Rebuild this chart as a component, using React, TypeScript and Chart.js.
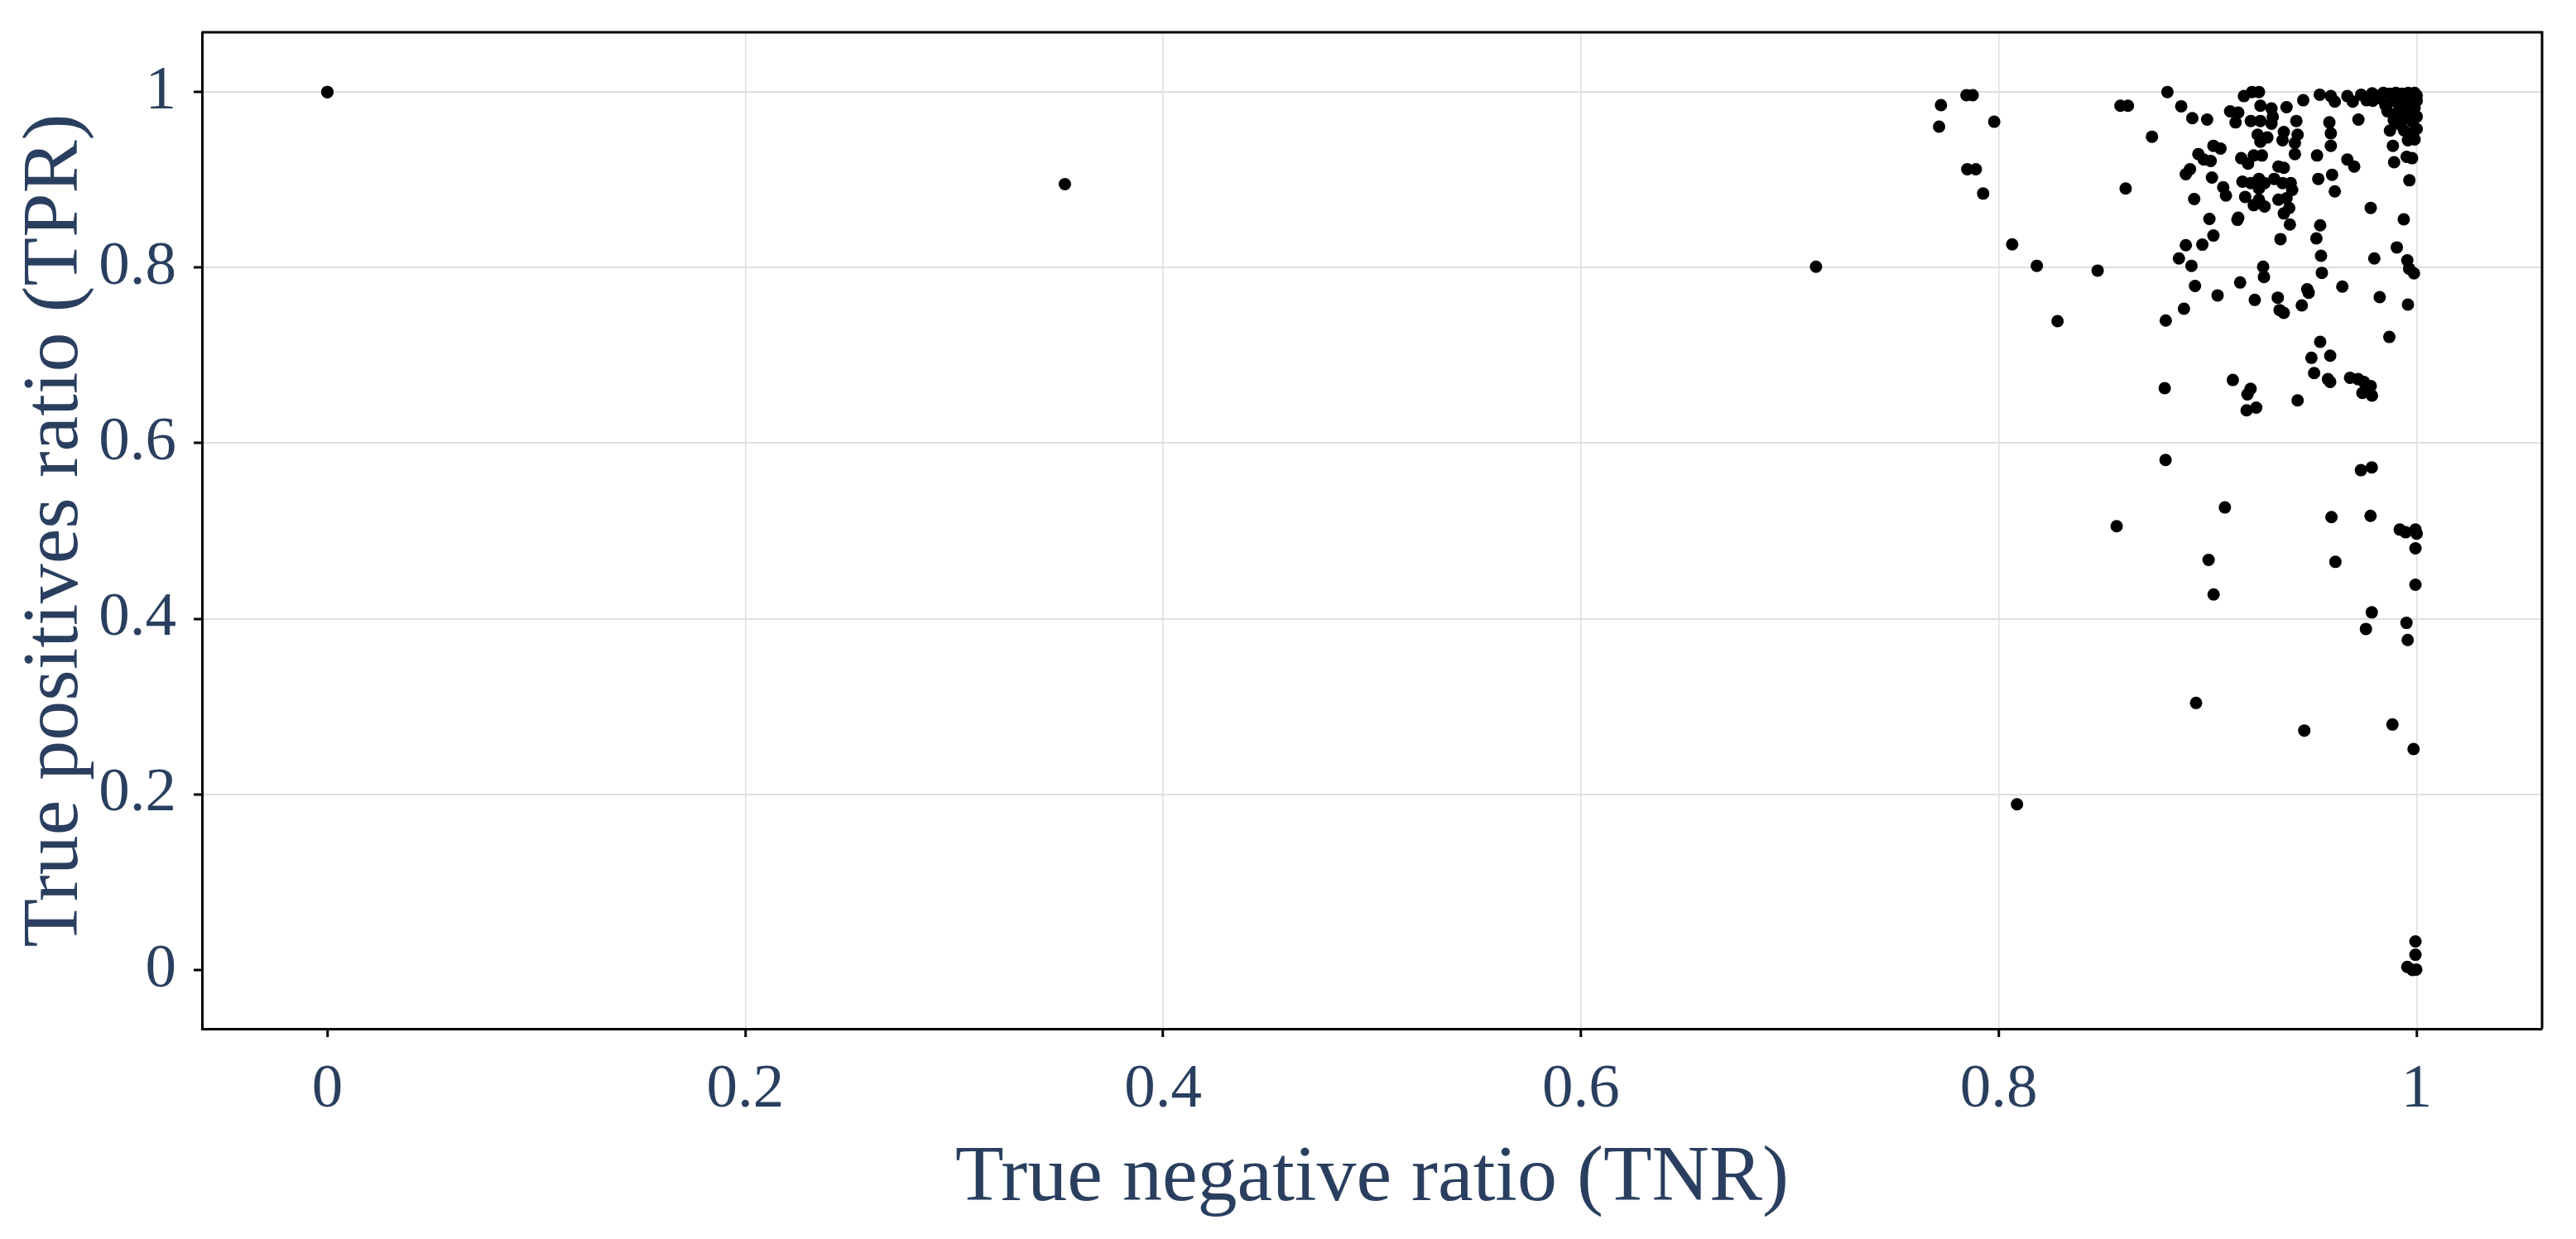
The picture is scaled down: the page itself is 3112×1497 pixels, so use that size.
import React, { useEffect, useRef } from "react";
import { Chart, registerables } from "chart.js";

Chart.register(...registerables);

// True negative ratio (x) and true positives ratio (y), one entry per point
const TNR = [
  0, 0, 0.353, 0.7125, 0.7723, 0.7845, 0.7875, 0.7714, 0.7978, 0.7849,
  0.789, 0.7925, 0.8064, 0.8182, 0.8473, 0.8281, 0.8582, 0.8618, 0.8607, 0.8733,
  0.8807, 0.8873, 0.8799, 0.8794, 0.8862, 0.8922, 0.8939, 0.8886, 0.9047, 0.8895,
  0.8974, 0.9027, 0.9008, 0.8935, 0.902, 0.8895, 0.8915, 0.8955, 0.8981, 0.9014,
  0.9027, 0.9061, 0.8926, 0.8997, 0.9107, 0.9146, 0.9133, 0.9173, 0.9212, 0.9245,
  0.9252, 0.9206, 0.9252, 0.9305, 0.9311, 0.9305, 0.9377, 0.9457, 0.9536, 0.9589,
  0.9608, 0.9668, 0.9694, 0.9734, 0.976, 0.9787, 0.9813, 0.9721, 0.9582, 0.9589,
  0.9589, 0.9424, 0.9364, 0.943, 0.9417, 0.9358, 0.9239, 0.9285, 0.9252, 0.9417,
  0.9523, 0.9668, 0.9701, 0.9595, 0.9529, 0.9608, 0.978, 0.9872, 0.9886, 0.9892,
  0.9952, 0.9978, 0.9965, 0.9958, 0.9938, 0.9074, 0.9087, 0.9146, 0.916, 0.9193,
  0.922, 0.9259, 0.9338, 0.9364, 0.9166, 0.9206, 0.9245, 0.9272, 0.9245, 0.9318,
  0.9358, 0.9397, 0.9404, 0.9179, 0.922, 0.9245, 0.9272, 0.9338, 0.9377, 0.939,
  0.9364, 0.9142, 0.9393, 0.9348, 0.9538, 0.952, 0.9542, 0.9546, 0.9905, 0.9797,
  0.9955, 0.9964, 0.9987, 0.9265, 0.9269, 0.9155, 0.9225, 0.9335, 0.9344, 0.9364,
  0.945, 0.9476, 0.9483, 0.9644, 0.9823, 0.9958, 0.9869, 0.9538, 0.9496, 0.9586,
  0.9509, 0.9575, 0.9586, 0.9681, 0.972, 0.9747, 0.978, 0.974, 0.9786, 0.976,
  0.912, 0.9205, 0.919, 0.943, 0.9186, 0.9232, 0.8798, 0.9733, 0.9785, 0.9082,
  0.8564, 0.9592, 0.9779, 0.9919, 0.9947, 0.9994, 1.0, 0.9994, 0.9004, 0.9611,
  0.9994, 0.9028, 0.9785, 0.9757, 0.9951, 0.9957, 0.8944, 0.9462, 0.9884, 0.9985,
  0.8087, 0.9994, 0.9994, 0.9955, 0.9998, 0.998, 0.984, 0.987, 0.99, 0.993,
  0.996, 0.999, 1.0, 0.985, 0.988, 0.991, 0.994, 0.997, 1.0, 0.986,
  0.99, 0.993, 0.996, 0.999, 0.989, 0.992, 0.995, 0.998, 1.0, 0.994,
  0.997, 1.0, 0.999, 0.982, 0.979,
];

const TPR = [
  1, 1, 0.895, 0.801, 0.985, 0.9963, 0.9963, 0.9605, 0.9661, 0.912,
  0.912, 0.8843, 0.8264, 0.802, 0.7966, 0.739, 0.9843, 0.9843, 0.89, 0.9491,
  1.0, 0.9837, 0.7397, 0.6626, 0.8104, 0.802, 0.779, 0.7532, 0.7683, 0.8255,
  0.8261, 0.8365, 0.8554, 0.878, 0.9025, 0.9063, 0.912, 0.9293, 0.923, 0.9214,
  0.9387, 0.9356, 0.9702, 0.9686, 0.978, 0.9765, 0.9654, 0.9953, 1.0, 1.0,
  0.9843, 0.967, 0.967, 0.9812, 0.9717, 0.9639, 0.9827, 0.9906, 0.9969, 0.9953,
  0.989, 0.9953, 0.989, 0.9969, 0.9906, 0.9984, 0.9953, 0.9686, 0.9654, 0.9529,
  0.9387, 0.967, 0.9544, 0.9513, 0.9419, 0.945, 0.9513, 0.9482, 0.9434, 0.9293,
  0.9277, 0.923, 0.9151, 0.9057, 0.901, 0.8868, 0.868, 0.956, 0.9387, 0.92,
  0.9261, 0.9246, 0.8994, 0.945, 0.855, 0.8915, 0.8821, 0.8569, 0.9246, 0.9183,
  0.9277, 0.9277, 0.9151, 0.9136, 0.8978, 0.8963, 0.901, 0.8963, 0.89, 0.901,
  0.8963, 0.8963, 0.8884, 0.8805, 0.8711, 0.8774, 0.8695, 0.8774, 0.879, 0.8679,
  0.8617, 0.8544, 0.849, 0.8324, 0.8481, 0.8333, 0.8135, 0.794, 0.823, 0.8104,
  0.8082, 0.7987, 0.7934, 0.8009, 0.7893, 0.783, 0.7632, 0.7657, 0.7516, 0.7484,
  0.7569, 0.7752, 0.7714, 0.7783, 0.7663, 0.7579, 0.721, 0.7154, 0.6972, 0.6997,
  0.6799, 0.6729, 0.6698, 0.6745, 0.6729, 0.6698, 0.6651, 0.6572, 0.6541, 0.6619,
  0.672, 0.6619, 0.6556, 0.6487, 0.6374, 0.6405, 0.5809, 0.5692, 0.5724, 0.5268,
  0.5054, 0.5158, 0.5173, 0.5016, 0.4985, 0.5016, 0.4969, 0.4802, 0.467, 0.4648,
  0.4387, 0.4277, 0.4073, 0.3884, 0.3953, 0.3758, 0.3041, 0.2727, 0.2796, 0.2516,
  0.1887, 0.0324, 0.0173, 0.0035, 0.0005, 0.0, 0.999, 0.998, 0.999, 0.998,
  0.999, 0.999, 0.996, 0.985, 0.99, 0.987, 0.992, 0.988, 0.99, 0.978,
  0.975, 0.98, 0.977, 0.982, 0.968, 0.963, 0.97, 0.966, 0.972, 0.956,
  0.952, 0.958, 0.946, 0.993, 0.99,
];

const X_TICKS = [0, 0.2, 0.4, 0.6, 0.8, 1];
const Y_TICKS = [0, 0.2, 0.4, 0.6, 0.8, 1];
const X_TITLE = "True negative ratio (TNR)";
const Y_TITLE = "True positives ratio (TPR)";

const FONT = "'Liberation Serif', 'Times New Roman', Times, serif";
const TEXT = "#2a3f5f";
const GRID = "#dedede";

const fmt = (v: number) => String(Number(Number(v).toFixed(2)));

export default function App() {
  const ref = useRef<HTMLCanvasElement>(null);

  useEffect(() => {
    if (!ref.current) return;
    const points = TNR.map((x, i) => ({ x, y: TPR[i] }));

    const frame = {
      id: "frame",
      afterDatasetsDraw(chart: any) {
        const { ctx, chartArea: a } = chart;
        ctx.save();
        ctx.strokeStyle = "#000";
        ctx.lineWidth = 3;
        ctx.beginPath();
        ctx.moveTo(a.left, a.top);
        ctx.lineTo(a.right, a.top);
        ctx.lineTo(a.right, a.bottom);
        ctx.stroke();
        ctx.restore();
      },
    };

    const gridColor = (c: any) =>
      c.tick && c.tick.value === 0 ? "rgba(0,0,0,0)" : GRID;

    const zeroPad = (s: any) => {
      s.paddingTop = 0;
      s.paddingBottom = 0;
      s.paddingLeft = 0;
      s.paddingRight = 0;
    };

    const chart = new Chart(ref.current, {
      type: "scatter",
      data: {
        datasets: [
          {
            data: points,
            pointRadius: 7.5,
            pointHoverRadius: 7.5,
            pointBackgroundColor: "#000",
            pointBorderWidth: 0,
          },
        ],
      },
      options: {
        animation: false,
        responsive: true,
        maintainAspectRatio: false,
        devicePixelRatio: 1,
        events: [],
        layout: { padding: { top: 39, right: 41, left: 0, bottom: 0 } },
        plugins: {
          legend: { display: false },
          tooltip: { enabled: false },
        },
        scales: {
          x: {
            type: "linear",
            position: "bottom",
            min: -0.06,
            max: 1.06,
            afterBuildTicks: (s: any) => {
              s.ticks = X_TICKS.map((value) => ({ value }));
            },
            afterFit: (s: any) => {
              s.height = 254;
              zeroPad(s);
            },
            grid: {
              color: gridColor,
              lineWidth: 1.5,
              tickColor: "#000",
              tickWidth: 3,
              tickLength: 10,
              drawTicks: true,
            },
            border: { display: true, color: "#000", width: 3 },
            ticks: {
              color: TEXT,
              font: { family: FONT, size: 75, lineHeight: 1 },
              padding: 27,
              maxRotation: 0,
              autoSkip: false,
              callback: (v: any) => fmt(v),
            },
            title: {
              display: true,
              text: X_TITLE,
              color: TEXT,
              font: { family: FONT, size: 96, lineHeight: 1 },
              padding: { top: 0, bottom: 24 },
            },
          },
          y: {
            type: "linear",
            position: "left",
            min: -0.067,
            max: 1.068,
            afterBuildTicks: (s: any) => {
              s.ticks = Y_TICKS.map((value) => ({ value }));
            },
            afterFit: (s: any) => {
              s.width = 244;
              zeroPad(s);
            },
            grid: {
              color: gridColor,
              lineWidth: 2,
              tickColor: "#000",
              tickWidth: 3,
              tickLength: 10,
              drawTicks: true,
            },
            border: { display: true, color: "#000", width: 3 },
            ticks: {
              color: TEXT,
              font: { family: FONT, size: 75, lineHeight: 1 },
              padding: 21,
              autoSkip: false,
              callback: (v: any) => fmt(v),
            },
            title: {
              display: true,
              text: Y_TITLE,
              color: TEXT,
              font: { family: FONT, size: 96, lineHeight: 1 },
              padding: { top: 20, bottom: 0 },
            },
          },
        },
      },
      plugins: [frame],
    } as any);

    return () => chart.destroy();
  }, []);

  return (
    <div
      style={{
        position: "absolute",
        left: 0,
        top: 0,
        width: 3112,
        height: 1497,
        background: "#fff",
      }}
    >
      <canvas ref={ref} />
    </div>
  );
}
